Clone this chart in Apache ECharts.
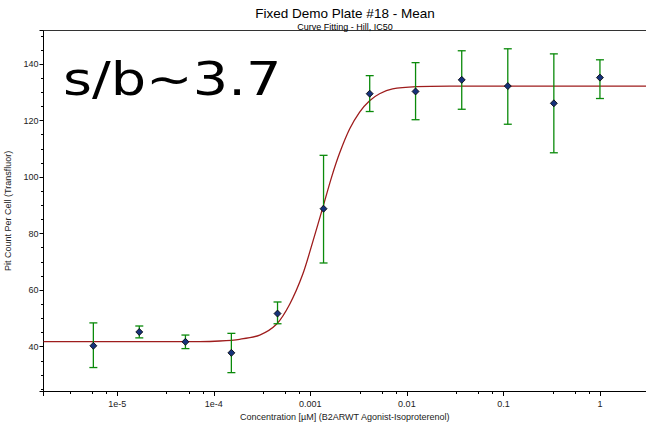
<!DOCTYPE html>
<html>
<head>
<meta charset="utf-8">
<script src="https://cdn.jsdelivr.net/npm/echarts@6/dist/echarts.min.js"></script>
<style>
  html, body { margin: 0; padding: 0; background: #fff; }
  #chart { width: 646px; height: 423px; }
</style>
</head>
<body>
<div id="chart"></div>
<script>
// concentrations in uM (3-fold dilution series)
var conc  = [5.65e-6, 1.69e-5, 5.08e-5, 1.52e-4, 4.57e-4, 1.37e-3, 4.12e-3, 0.0123, 0.037, 0.111, 0.333, 1];
var means = [40.3, 45.2, 41.7, 37.8, 51.7, 88.8, 129.5, 130.3, 134.4, 132.2, 126.1, 135.2];
var lows  = [32.6, 43.1, 39.3, 30.8, 48.1, 69.6, 123.2, 120.3, 124.0, 118.7, 108.6, 127.8];
var highs = [48.4, 47.3, 44.1, 44.7, 55.8, 107.7, 135.9, 140.5, 144.7, 145.4, 143.6, 141.5];

// hill fit curve
var fitConc = [1.72e-6, 2.17e-5, 7.14e-5, 1.15e-4, 1.85e-4, 2.99e-4, 4.48e-4, 6.11e-4, 8.32e-4, 1.057e-3,
               1.34e-3, 1.66e-3, 2.01e-3, 2.55e-3, 3.24e-3, 4.11e-3, 5.21e-3, 7.11e-3, 0.0126, 0.0277, 3];
var fitVal  = [41.8, 41.8, 41.8, 42.0, 42.6, 44.1, 48.0, 55.0, 65.5, 77.0,
               89.0, 100.0, 108.5, 117.0, 123.0, 127.0, 129.5, 131.2, 132.0, 132.2, 132.2];

var xTickVals   = [1e-5, 1e-4, 0.001, 0.01, 0.1, 1];
var xTickLabels = ['1e-5', '1e-4', '0.001', '0.01', '0.1', '1'];

var chart = echarts.init(document.getElementById('chart'), null, { renderer: 'svg' });

var errData = [];
for (var i = 0; i < conc.length; i++) {
  errData.push([conc[i], lows[i], highs[i]]);
}
var meanData = conc.map(function (c, i) { return [c, means[i]]; });
var fitData = fitConc.map(function (c, i) { return [c, fitVal[i]]; });

var option = {
  animation: false,
  backgroundColor: '#fff',
  title: [{
    text: 'Fixed Demo Plate #18 - Mean',
    subtext: 'Curve Fitting - Hill, IC50',
    left: 345,
    top: 6,
    textAlign: 'center',
    padding: 0,
    itemGap: 2,
    textStyle: { fontFamily: 'Liberation Sans, Arial', fontSize: 13.5, fontWeight: 'normal', color: '#000' },
    subtextStyle: { fontFamily: 'Liberation Sans, Arial', fontSize: 9, color: '#000' }
  }],
  graphic: [{
    type: 'text',
    x: 63,
    y: 79,
    scaleX: 1.185,
    style: {
      text: 's/b~3.7',
      font: '47px "DejaVu Sans"',
      fill: '#000',
      verticalAlign: 'middle'
    }
  }],
  grid: { left: 43.5, right: 0, top: 30.7, bottom: 32, outerBoundsMode: 'none' },
  xAxis: [{
    type: 'log',
    min: 1.72e-6,
    max: 3,
    name: 'Concentration [\u00b5M] (B2ARWT Agonist-Isoproterenol)',
    nameLocation: 'middle',
    nameGap: 17,
    nameTextStyle: { fontFamily: 'Liberation Sans, Arial', fontSize: 9, color: '#222' },
    axisLine: { lineStyle: { color: '#000', width: 1 } },
    axisTick: { length: 5, lineStyle: { color: '#000' } },
    minorTick: { show: true, splitNumber: 4, length: 3, lineStyle: { color: '#000' } },
    splitLine: { show: false },
    axisLabel: {
      margin: 8,
      fontFamily: 'Liberation Sans, Arial',
      fontSize: 9,
      color: '#222',
      formatter: function (v) {
        for (var k = 0; k < xTickVals.length; k++) {
          if (Math.abs(Math.log10(v) - Math.log10(xTickVals[k])) < 1e-6) return xTickLabels[k];
        }
        return '';
      }
    }
  }, {
    type: 'log',
    position: 'top',
    min: 1.72e-6,
    max: 3,
    axisLine: { lineStyle: { color: '#333', width: 1 } },
    axisTick: { show: false },
    axisLabel: { show: false },
    splitLine: { show: false }
  }],
  yAxis: {
    type: 'value',
    min: 24.3,
    max: 151.8,
    splitNumber: 6,
    name: 'Pit Count Per Cell (Transfluor)',
    nameLocation: 'middle',
    nameGap: 25,
    nameTextStyle: { fontFamily: 'Liberation Sans, Arial', fontSize: 9, color: '#222' },
    axisLine: { show: true, lineStyle: { color: '#000', width: 1 } },
    axisTick: { show: true, length: 4, lineStyle: { color: '#000' } },
    minorTick: { show: true, splitNumber: 4, length: 2.5, lineStyle: { color: '#000' } },
    splitLine: { show: false },
    axisLabel: {
      margin: 5,
      fontFamily: 'Liberation Sans, Arial',
      fontSize: 9,
      color: '#222',
      formatter: function (v) { return (Math.abs(v % 20) < 1e-6) ? String(v) : ''; }
    }
  },
  series: [{
    type: 'line',
    data: fitData,
    showSymbol: false,
    smooth: 0.3,
    lineStyle: { color: '#9e1c1c', width: 1.3 },
    z: 2
  }, {
    type: 'custom',
    data: errData,
    z: 3,
    renderItem: function (params, api) {
      var x = api.value(0);
      var lo = api.coord([x, api.value(1)]);
      var hi = api.coord([x, api.value(2)]);
      var w = 4;
      var st = { stroke: '#0a8a0a', lineWidth: 1.3 };
      return {
        type: 'group',
        children: [
          { type: 'line', shape: { x1: lo[0], y1: lo[1], x2: hi[0], y2: hi[1] }, style: st },
          { type: 'line', shape: { x1: lo[0] - w, y1: lo[1], x2: lo[0] + w, y2: lo[1] }, style: st },
          { type: 'line', shape: { x1: hi[0] - w, y1: hi[1], x2: hi[0] + w, y2: hi[1] }, style: st }
        ]
      };
    }
  }, {
    type: 'scatter',
    data: meanData,
    symbol: 'diamond',
    symbolSize: 7,
    itemStyle: { color: '#16327a', borderColor: '#000', borderWidth: 0.8, opacity: 1 },
    z: 4
  }]
};

chart.setOption(option);
</script>
</body>
</html>
